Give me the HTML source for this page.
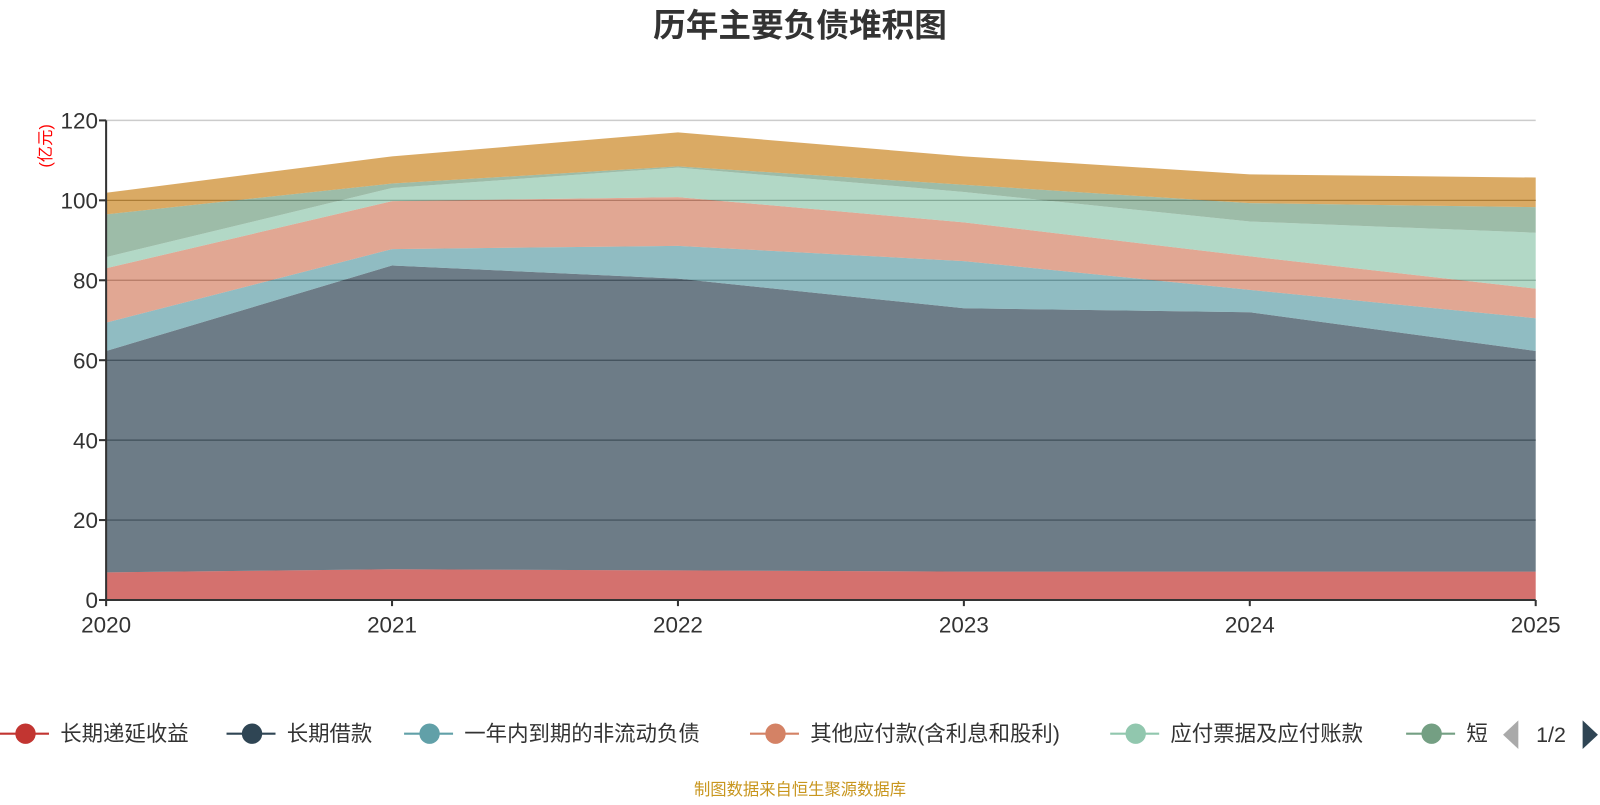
<!DOCTYPE html>
<html><head><meta charset="utf-8">
<style>
body{margin:0;background:#fff;width:1600px;height:800px;overflow:hidden;font-family:"Liberation Sans","Noto Sans CJK SC",sans-serif;}
svg text{font-family:"Liberation Sans","Noto Sans CJK SC",sans-serif;}
</style></head>
<body>
<svg id="chart" width="1600" height="800">
<g transform="scale(1.0204)">
<text x="784" y="36" text-anchor="middle" font-size="32" font-weight="bold" fill="#333">历年主要负债堆积图</text>
<text transform="translate(50,143) rotate(-90)" text-anchor="middle" font-size="16" fill="#ff0000">(亿元)</text>
<g id="grid"></g>
<g id="areas"></g>
<g id="axes"></g>
<g id="legend"></g>
<text x="784" y="779" text-anchor="middle" font-size="16" fill="#c8961e">制图数据来自恒生聚源数据库</text>
</g>
</svg>
<script>
const categories=["2020","2021","2022","2023","2024","2025"];
const seriesNames=["长期递延收益","长期借款","一年内到期的非流动负债","其他应付款(含利息和股利)","应付票据及应付账款","短期借款","应付债券"];
const s1=[6.9,7.7,7.4,7.1,7.1,7.1];
const s2=[55.4,76.0,73.0,65.9,64.9,55.2];
const s3=[7.1,4.1,8.2,11.8,5.6,8.2];
const s4=[13.6,12.0,12.2,9.7,8.4,7.4];
const s5=[2.8,3.3,7.4,7.6,8.7,14.0];
const s6=[10.7,1.1,0.3,1.8,4.6,6.4];
const s7=[5.4,6.8,8.5,7.1,7.2,7.4];
const yTicks=[0,20,40,60,80,100,120];
const colors=["#c23531","#2f4554","#61a0a8","#d48265","#91c7ae","#749f83","#ca8622"];
const series=[s1,s2,s3,s4,s5,s6,s7];
const NS="http://www.w3.org/2000/svg";
const X0=104,X1=1505,Y0=588,Y1=118,YMAX=120;
const xs=i=>X0+(X1-X0)*i/(categories.length-1);
const ys=v=>Y0-(Y0-Y1)*v/YMAX;
function mk(t,a,p){const e=document.createElementNS(NS,t);for(const k in a)e.setAttribute(k,a[k]);p.appendChild(e);return e;}
const grid=document.getElementById('grid'),areas=document.getElementById('areas'),axes=document.getElementById('axes'),legend=document.getElementById('legend');
yTicks.forEach(v=>{
 if(v>0){const l=mk('line',{x1:X0,x2:X1,y1:ys(v),y2:ys(v),stroke:v===120?'#ccc':'#666','stroke-width':v===120?1.5:1.2},grid);
 
 }
 const t=mk('text',{x:X0-8,y:ys(v)+8,'text-anchor':'end','font-size':22,fill:'#333'},axes);t.textContent=v;
 
 
 mk('line',{x1:X0-7,x2:X0,y1:ys(v),y2:ys(v),stroke:'#333','stroke-width':2},axes);
});
let base=categories.map(()=>0);
series.forEach((s,k)=>{
 const top=base.map((b,i)=>b+s[i]);
 let d='';
 top.forEach((v,i)=>{d+=(i?'L':'M')+xs(i)+','+ys(v);});
 for(let i=base.length-1;i>=0;i--)d+='L'+xs(i)+','+ys(base[i]);
 const p=mk('path',{d:d+'Z',fill:colors[k],'fill-opacity':0.7},areas);
 
 
 base=top;
});
mk('line',{x1:X0,x2:X0,y1:Y1,y2:Y0,stroke:'#333','stroke-width':2},axes);
mk('line',{x1:X0,x2:X1,y1:Y0,y2:Y0,stroke:'#333','stroke-width':2},axes);
categories.forEach((c,i)=>{
 mk('line',{x1:xs(i),x2:xs(i),y1:Y0,y2:Y0+6,stroke:'#333','stroke-width':2},axes);
 const t=mk('text',{x:xs(i),y:Y0+32,'text-anchor':'middle','font-size':22,fill:'#333'},axes);t.textContent=c;
 
 
});
const lx=[0,222,396,735,1088,1378];
lx.forEach((x,k)=>{
 const g=mk('g',{},legend);
 
 
 mk('line',{x1:x,x2:x+48,y1:719,y2:719,stroke:colors[k],'stroke-width':2},g);
 mk('circle',{cx:x+25,cy:719,r:10,fill:colors[k]},g);
 const t=mk('text',{x:x+59,y:726,'font-size':21,fill:'#333'},g);
 t.textContent=k===5?'短':seriesNames[k];
});
const pl=mk('path',{d:'M1488,706 L1488,734 L1473,720Z',fill:'#aaa'},legend);


const pt=mk('text',{x:1520,y:727,'text-anchor':'middle','font-size':21,fill:'#333'},legend);pt.textContent='1/2';


const pr=mk('path',{d:'M1551,706 L1551,734 L1566,720Z',fill:'#2f4554'},legend);


</script>
</body></html>
